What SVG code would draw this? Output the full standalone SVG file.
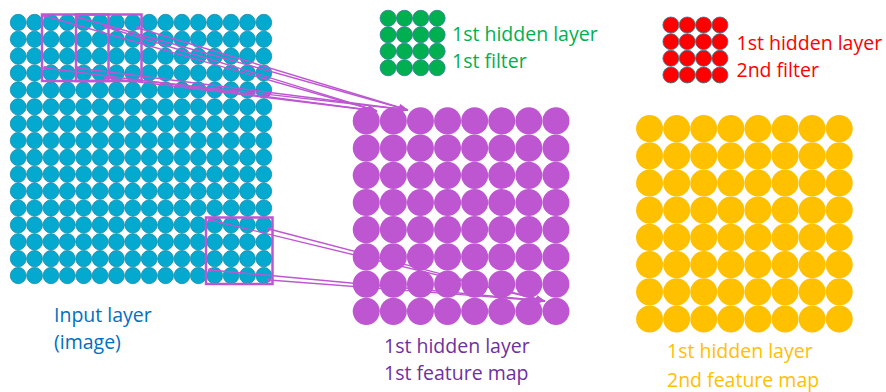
<svg xmlns="http://www.w3.org/2000/svg" xmlns:xlink="http://www.w3.org/1999/xlink" width="886" height="392" viewBox="0 0 886 392">
<style>
text{font-family:"Open Sans","Liberation Sans",sans-serif;font-size:19.5px}
.in{fill:#03A9CF;stroke:#1A8BA8;stroke-width:0.8}
.fl{stroke:#2C7F96;stroke-width:0.8}
.win{fill:none;stroke:#BE56D2;stroke-width:2.5}
.cn{fill:none;stroke:#BE56D2;stroke-width:1.4}
</style>
<defs>
<marker id="ah" markerUnits="userSpaceOnUse" markerWidth="10" markerHeight="8" refX="9" refY="4" orient="auto">
<path d="M0,0.5 L9,4 L0,7.5 z" fill="#BE56D2"/>
</marker>
<marker id="dot" markerUnits="userSpaceOnUse" markerWidth="5" markerHeight="5" refX="2.5" refY="2.5">
<circle cx="2.5" cy="2.5" r="2" fill="#BE56D2"/>
</marker>
<g id="inRow" class="in">
<ellipse cx="18.19" cy="0" rx="7.9" ry="8.15"/><ellipse cx="34.56" cy="0" rx="7.9" ry="8.15"/><ellipse cx="50.94" cy="0" rx="7.9" ry="8.15"/><ellipse cx="67.31" cy="0" rx="7.9" ry="8.15"/>
<ellipse cx="83.69" cy="0" rx="7.9" ry="8.15"/><ellipse cx="100.06" cy="0" rx="7.9" ry="8.15"/><ellipse cx="116.44" cy="0" rx="7.9" ry="8.15"/><ellipse cx="132.81" cy="0" rx="7.9" ry="8.15"/>
<ellipse cx="149.19" cy="0" rx="7.9" ry="8.15"/><ellipse cx="165.56" cy="0" rx="7.9" ry="8.15"/><ellipse cx="181.94" cy="0" rx="7.9" ry="8.15"/><ellipse cx="198.31" cy="0" rx="7.9" ry="8.15"/>
<ellipse cx="214.69" cy="0" rx="7.9" ry="8.15"/><ellipse cx="231.06" cy="0" rx="7.9" ry="8.15"/><ellipse cx="247.44" cy="0" rx="7.9" ry="8.15"/><ellipse cx="263.81" cy="0" rx="7.9" ry="8.15"/>
</g>
<g id="bigRow">
<ellipse cx="0" cy="0" rx="13.5" ry="13.6"/><ellipse cx="27.1" cy="0" rx="13.5" ry="13.6"/><ellipse cx="54.2" cy="0" rx="13.5" ry="13.6"/><ellipse cx="81.3" cy="0" rx="13.5" ry="13.6"/>
<ellipse cx="108.4" cy="0" rx="13.5" ry="13.6"/><ellipse cx="135.5" cy="0" rx="13.5" ry="13.6"/><ellipse cx="162.6" cy="0" rx="13.5" ry="13.6"/><ellipse cx="189.7" cy="0" rx="13.5" ry="13.6"/>
</g>
<g id="smRow" class="fl">
<circle cx="0" cy="0" r="8"/><circle cx="16.35" cy="0" r="8"/><circle cx="32.7" cy="0" r="8"/><circle cx="49.05" cy="0" r="8"/>
</g>
</defs>
<rect width="886" height="392" fill="#FFFFFF"/>

<g id="input-layer">
<use xlink:href="#inRow" y="22.44"/><use xlink:href="#inRow" y="39.31"/><use xlink:href="#inRow" y="56.19"/><use xlink:href="#inRow" y="73.06"/>
<use xlink:href="#inRow" y="89.94"/><use xlink:href="#inRow" y="106.81"/><use xlink:href="#inRow" y="123.69"/><use xlink:href="#inRow" y="140.56"/>
<use xlink:href="#inRow" y="157.44"/><use xlink:href="#inRow" y="174.31"/><use xlink:href="#inRow" y="191.19"/><use xlink:href="#inRow" y="208.06"/>
<use xlink:href="#inRow" y="224.94"/><use xlink:href="#inRow" y="241.81"/><use xlink:href="#inRow" y="258.69"/><use xlink:href="#inRow" y="275.56"/>
<rect class="win" x="42" y="14.5" width="66.5" height="66.5"/>
<rect class="win" x="76" y="14.5" width="65.5" height="66.5"/>
<rect class="win" x="206" y="217.5" width="66.5" height="66.5"/>
<text x="54" y="322" fill="#0070C0">Input layer</text>
<text x="54" y="349" fill="#0070C0">(image)</text>
</g>

<g id="filter-1">
<use xlink:href="#smRow" x="388.1" y="18.25" fill="#00B050"/><use xlink:href="#smRow" x="388.1" y="34.75" fill="#00B050"/>
<use xlink:href="#smRow" x="388.1" y="51.25" fill="#00B050"/><use xlink:href="#smRow" x="388.1" y="67.75" fill="#00B050"/>
<text x="452" y="40.5" fill="#00B050">1st hidden layer</text>
<text x="452" y="68.3" fill="#00B050">1st filter</text>
</g>

<g id="filter-2">
<use xlink:href="#smRow" x="670.9" y="25" fill="#FF0000"/><use xlink:href="#smRow" x="670.9" y="41.7" fill="#FF0000"/>
<use xlink:href="#smRow" x="670.9" y="58.3" fill="#FF0000"/><use xlink:href="#smRow" x="670.9" y="75" fill="#FF0000"/>
<text x="736.5" y="50" fill="#FF0000">1st hidden layer</text>
<text x="736.5" y="76.5" fill="#FF0000">2nd filter</text>
</g>

<g id="feature-map-1" fill="#BE56D2">
<use xlink:href="#bigRow" x="366.25" y="120.9"/><use xlink:href="#bigRow" x="366.25" y="148.1"/><use xlink:href="#bigRow" x="366.25" y="175.3"/><use xlink:href="#bigRow" x="366.25" y="202.5"/>
<use xlink:href="#bigRow" x="366.25" y="229.7"/><use xlink:href="#bigRow" x="366.25" y="256.9"/><use xlink:href="#bigRow" x="366.25" y="284.1"/><use xlink:href="#bigRow" x="366.25" y="311.3"/>
<text x="384" y="352.7" fill="#7030A0">1st hidden layer</text>
<text x="384" y="380" fill="#7030A0">1st feature map</text>
</g>

<g id="feature-map-2" fill="#FFC000">
<use xlink:href="#bigRow" x="649.55" y="128.6"/><use xlink:href="#bigRow" x="649.55" y="155.8"/><use xlink:href="#bigRow" x="649.55" y="183"/><use xlink:href="#bigRow" x="649.55" y="210.2"/>
<use xlink:href="#bigRow" x="649.55" y="237.4"/><use xlink:href="#bigRow" x="649.55" y="264.6"/><use xlink:href="#bigRow" x="649.55" y="291.8"/><use xlink:href="#bigRow" x="649.55" y="319"/>
<text x="667" y="358.3" fill="#FFC000">1st hidden layer</text>
<text x="667" y="386.5" fill="#FFC000">2nd feature map</text>
</g>

<g id="connectors" class="cn" marker-start="url(#dot)" marker-end="url(#ah)">
<line x1="45" y1="16" x2="377" y2="111"/>
<line x1="106" y1="27" x2="377" y2="111"/>
<line x1="45" y1="68" x2="377" y2="111"/>
<line x1="106" y1="78" x2="377" y2="111"/>
<line x1="77" y1="17" x2="408" y2="110"/>
<line x1="138" y1="28" x2="408" y2="110"/>
<line x1="77" y1="68" x2="408" y2="110"/>
<line x1="138" y1="80" x2="408" y2="110"/>
<line x1="210" y1="220" x2="545" y2="301"/>
<line x1="269" y1="229" x2="545" y2="301"/>
<line x1="210" y1="270" x2="545" y2="301"/>
<line x1="269" y1="280" x2="545" y2="301"/>
</g>
</svg>
